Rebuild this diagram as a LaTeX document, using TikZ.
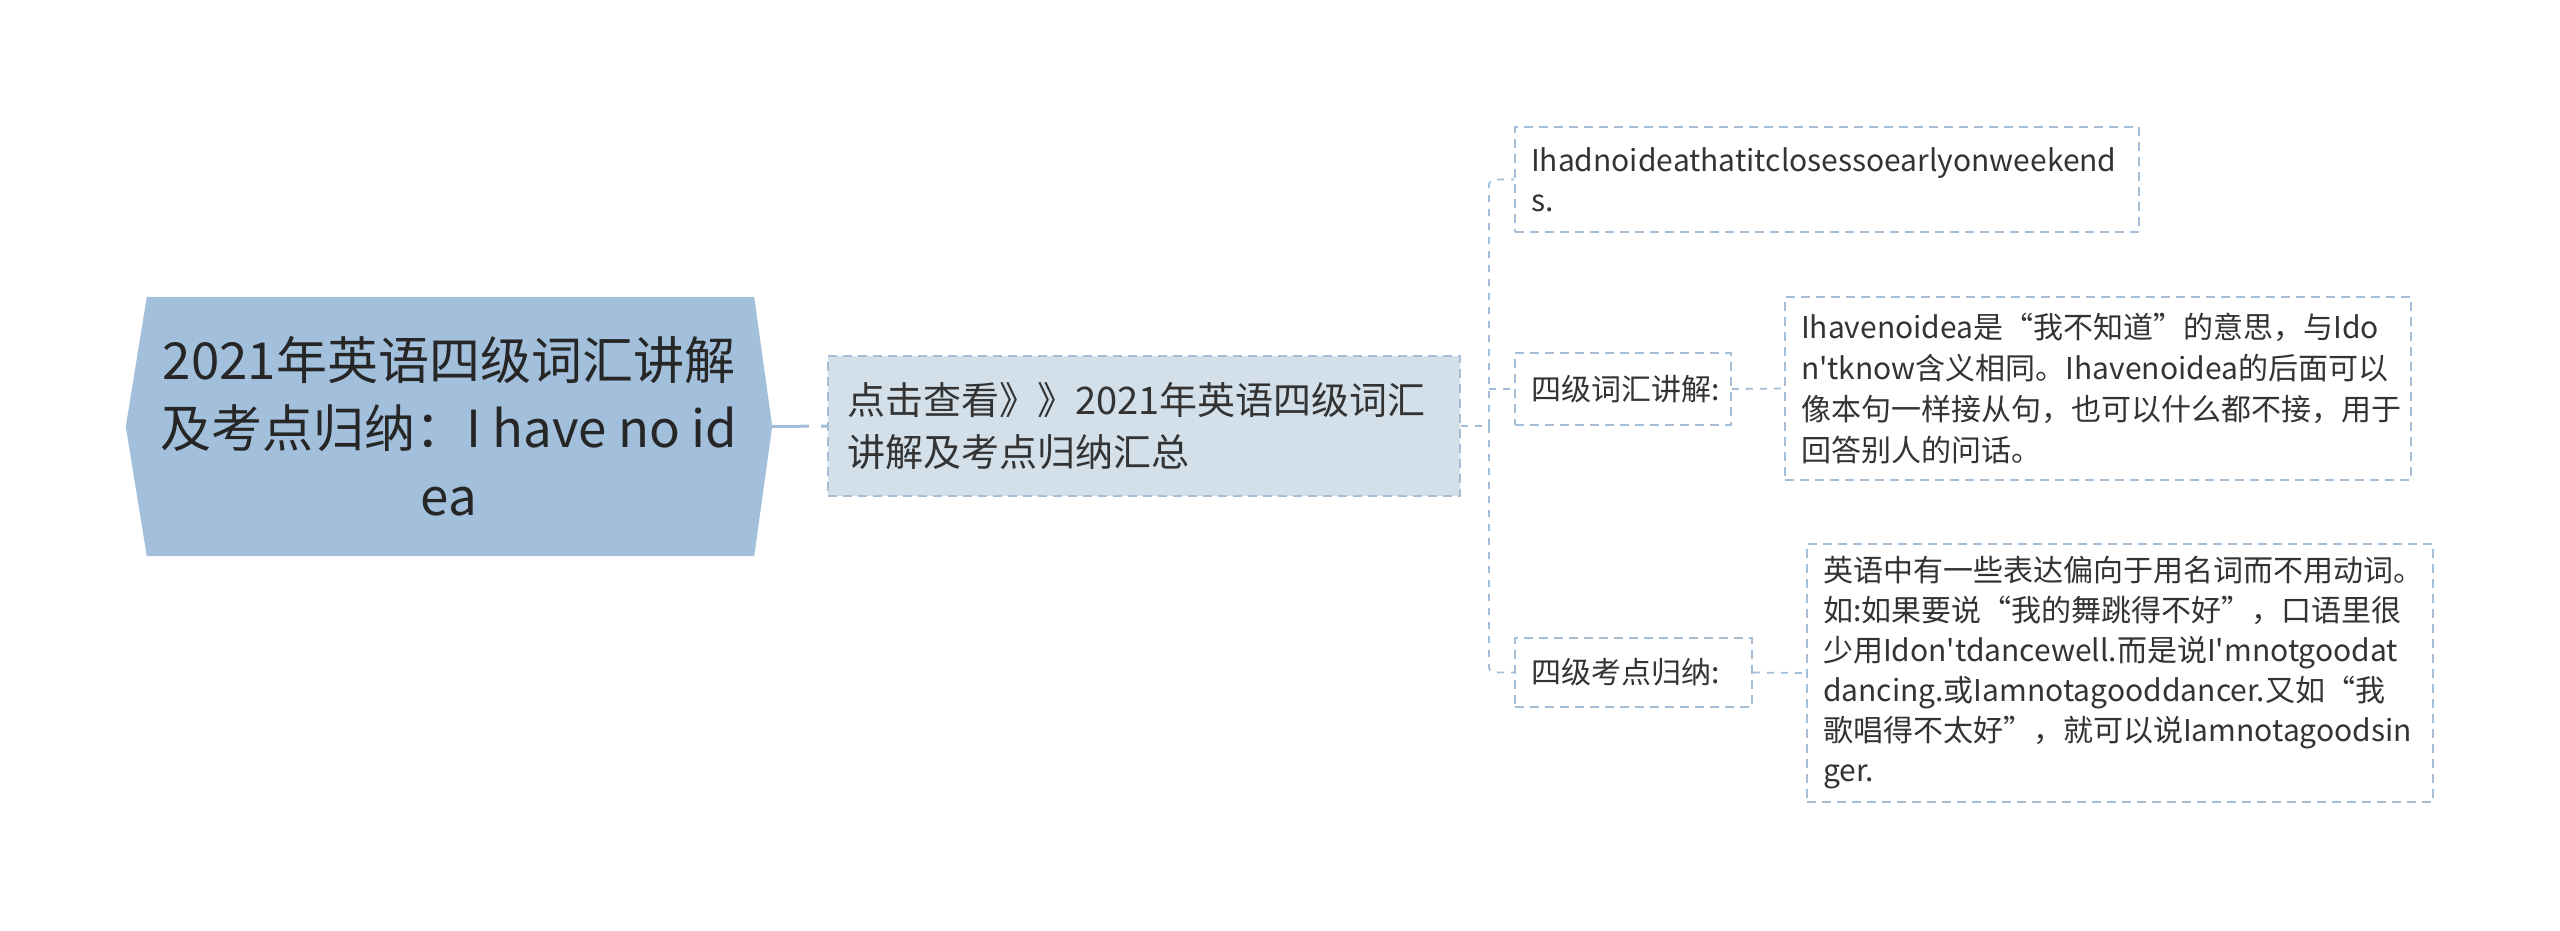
\documentclass[tikz,border=0pt]{standalone}
\usepackage{fontspec}
\setmainfont{Noto Sans CJK SC}[Ligatures=TeXOff]
\usetikzlibrary{backgrounds}
\definecolor{rootfill}{HTML}{A2BFDB}
\definecolor{subfill}{HTML}{D3E0EA}
\definecolor{edgecol}{HTML}{A6BED5}
\definecolor{linecol}{HTML}{A2BDD8}
\definecolor{txt}{HTML}{333333}
\begin{document}
\begin{tikzpicture}[x=1pt,y=-1pt,
  every node/.style={inner sep=0pt, text=txt},
  nobreak/.style={execute at begin node={\hyphenpenalty=10000\exhyphenpenalty=10000}},
  rootnode/.style={rectangle, align=center, minimum width=646pt, minimum height=259pt,
    font=\fontsize{51}{68}\selectfont, text=black!85},
  midbox/.style={rectangle, draw=edgecol, fill=subfill, line width=1.8pt, dash pattern=on 9pt off 6pt,
    align=left, nobreak, minimum width=632pt, minimum height=140pt, text width=594pt,
    font=\fontsize{38}{52}\selectfont},
  leafbox/.style={rectangle, draw=edgecol, line width=1.8pt, dash pattern=on 9pt off 6pt,
    align=left, nobreak, font=\fontsize{30}{40}\selectfont},
  rootline/.style={draw=linecol, line width=3pt, dash pattern=on 37pt off 12pt},
  conn/.style={draw=linecol, line width=1.8pt, dash pattern=on 7pt off 7pt}
]
\useasboundingbox (0,0) rectangle (2560,930);

\node[rootnode] (root) at (449,426.5) {2021年英语四级词汇讲解\\及考点归纳：I have no id\\ea};
\begin{pgfonlayer}{background}
\fill[rootfill] (root.west) -- ([xshift=21pt]root.north west) -- ([xshift=-18pt]root.north east)
  -- (root.east) -- ([xshift=-18pt]root.south east) -- ([xshift=21pt]root.south west) -- cycle;
\end{pgfonlayer}

\node[midbox] (n2) at (1144,426) {点击查看》》2021年英语四级词汇\\讲解及考点归纳汇总};

\node[leafbox, minimum width=624pt, minimum height=105pt, text width=592pt] (c1) at (1827,179.5)
  {Ihadnoideathatitclosessoearlyonweekend\\s.};
\node[leafbox, minimum width=216pt, minimum height=72pt, text width=184pt] (c2) at (1623,389)
  {四级词汇讲解:};
\node[leafbox, minimum width=237pt, minimum height=69pt, text width=205pt] (c3) at (1633.5,672.5)
  {四级考点归纳:};

\node[leafbox, minimum width=626pt, minimum height=183pt, text width=594pt,
  font=\fontsize{30}{41}\selectfont] (d2) at (2098,388.5)
  {Ihavenoidea是“我不知道”的意思，与Ido\\n'tknow含义相同。Ihavenoidea的后面可以\\像本句一样接从句，也可以什么都不接，用于\\回答别人的问话。};
\node[leafbox, minimum width=626pt, minimum height=258pt, text width=594pt] (d3) at (2120,673)
  {英语中有一些表达偏向于用名词而不用动词。\\如:如果要说“我的舞跳得不好”，口语里很\\少用Idon'tdancewell.而是说I'mnotgoodat\\dancing.或Iamnotagooddancer.又如“我\\歌唱得不太好”，就可以说Iamnotagoodsin\\ger.};

\draw[rootline] (root.east) -- (n2.west);
\draw[conn] (n2.east) -- ++(28,0) coordinate (tj);
\draw[conn, rounded corners=6pt] (tj) |- (c1.west);
\draw[conn, rounded corners=6pt] (tj) |- (c3.west);
\draw[conn] (tj |- c2.west) -- (c2.west);
\draw[conn] (c2.east) -- (d2.west);
\draw[conn] (c3.east) -- (d3.west);
\end{tikzpicture}
\end{document}
